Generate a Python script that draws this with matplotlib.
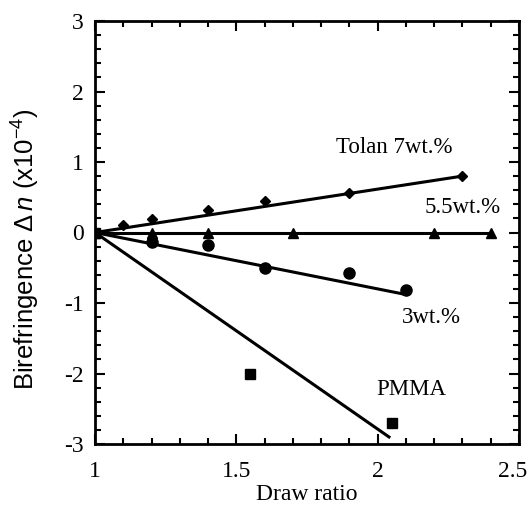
import matplotlib.pyplot as plt
from matplotlib.ticker import MultipleLocator
from matplotlib.transforms import ScaledTranslation

plt.rcParams['font.family'] = ['Liberation Serif', 'DejaVu Serif']
plt.rcParams['mathtext.fontset'] = 'custom'
plt.rcParams['mathtext.rm'] = 'Liberation Sans'
plt.rcParams['mathtext.it'] = 'Liberation Sans:italic'
plt.rcParams['axes.unicode_minus'] = False

# Donnees mesurees
tolan_x = [1.0, 1.1, 1.2, 1.4, 1.6, 1.9, 2.3]
tolan_y = [0.0, 0.11, 0.19, 0.32, 0.45, 0.56, 0.80]
tolan_fit_x = [1.0, 2.3]
tolan_fit_y = [0.0, 0.80]

w55_x = [1.0, 1.2, 1.4, 1.7, 2.2, 2.4]
w55_y = [0.0, 0.0, 0.0, 0.0, 0.0, 0.0]
w55_fit_x = [1.0, 2.4]
w55_fit_y = [0.0, 0.0]

w3_x = [1.2, 1.4, 1.6, 1.9, 2.1]
w3_y = [-0.13, -0.18, -0.50, -0.58, -0.82]
w3_fit_x = [1.0, 2.1]
w3_fit_y = [0.0, -0.88]

pmma_x = [1.0, 1.55, 2.05]
pmma_y = [0.0, -2.0, -2.7]
pmma_fit_x = [1.0, 2.04]
pmma_fit_y = [0.0, -2.9]

fig = plt.figure(figsize=(5.32, 5.09), dpi=100)
ax = fig.add_axes([95 / 532, 1 - 444 / 509, 424 / 532, 423 / 509])

lw = 2.2
ax.plot(tolan_fit_x, tolan_fit_y, color='black', lw=lw)
ax.plot(tolan_x, tolan_y, 'D', color='black', ms=5.5)
ax.plot(w55_fit_x, w55_fit_y, color='black', lw=lw)
ax.plot(w55_x, w55_y, '^', color='black', ms=7)
ax.plot(w3_fit_x, w3_fit_y, color='black', lw=lw)
ax.plot(w3_x, w3_y, 'o', color='black', ms=8)
ax.plot(pmma_fit_x, pmma_fit_y, color='black', lw=lw)
ax.plot(pmma_x, pmma_y, 's', color='black', ms=7)

fs = 16.5
ax.text(2.06, 1.21, 'Tolan 7wt.%', fontsize=fs, ha='center', va='center')
ax.text(2.30, 0.36, '5.5wt.%', fontsize=fs, ha='center', va='center')
ax.text(2.19, -1.20, '3wt.%', fontsize=fs, ha='center', va='center')
ax.text(2.12, -2.23, 'PMMA', fontsize=fs, ha='center', va='center')

ax.set_xlim(1, 2.5)
ax.set_ylim(-3, 3)
ax.xaxis.set_major_locator(MultipleLocator(0.5))
ax.xaxis.set_minor_locator(MultipleLocator(0.1))
ax.yaxis.set_major_locator(MultipleLocator(1))
ax.yaxis.set_minor_locator(MultipleLocator(0.2))
ax.set_xticks([1, 1.5, 2, 2.5], ['1', '1.5', '2', '2.5'])
ax.tick_params(which='both', direction='in', top=True, right=True, width=1.5, labelsize=17)
ax.tick_params(which='major', length=7)
ax.tick_params(which='minor', length=4)
ax.tick_params(axis='x', pad=12)
ax.tick_params(axis='y', pad=8)
for s in ax.spines.values():
    s.set_linewidth(2)

# decaler le dernier label pour qu'il reste dans la figure
last = ax.get_xticklabels()[-1]
last.set_transform(last.get_transform() + ScaledTranslation(-6 / 100, 0, fig.dpi_scale_trans))

ax.set_xlabel('Draw ratio', fontsize=17, labelpad=2)
ax.set_ylabel(r'Birefringence $\Delta\,n$ (x10$^{-4}$)', fontsize=18.5,
              family='Liberation Sans')
ax.yaxis.set_label_coords(-0.125, 0.46)

fig.savefig('out.png', dpi=100)
